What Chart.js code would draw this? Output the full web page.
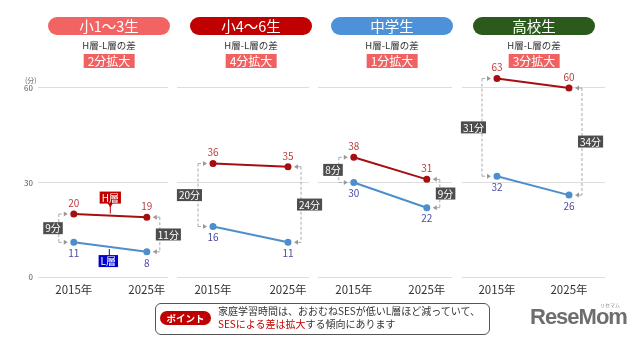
<!DOCTYPE html>
<html>
<head>
<meta charset="utf-8">
<script src="https://cdn.jsdelivr.net/npm/chart.js@4.4.0/dist/chart.umd.min.js"></script>
<style>
  body { margin: 0; background: #fff; font-family: 'Noto Sans CJK JP', 'Noto Sans', sans-serif; }
  #wrap { position: relative; width: 640px; height: 342px; overflow: hidden; }
  #wrap canvas { position: absolute; left: 0; top: 0; }
  .pill { position: absolute; top: 17px; width: 122px; height: 18px; border-radius: 9px; color: #fff;
          font-size: 14.5px; line-height: 18px; text-align: center; }
  .sub { position: absolute; top: 38px; width: 122px; text-align: center; font-size: 9.5px; color: #333; }
  .badge { position: absolute; top: 54px; height: 14px; line-height: 14px; padding: 0 4px; background: #f06262;
           color: #fff; font-size: 12px; transform: translateX(-50%); white-space: nowrap; }
  #unit { position: absolute; left: 25px; top: 75px; font-size: 7px; color: #666; }
  #note { position: absolute; left: 155px; top: 303px; width: 335px; height: 32px; border: 1.5px solid #555;
          border-radius: 6px; box-sizing: border-box; }
  #point { position: absolute; left: 4px; top: 7px; width: 51px; height: 14px; border-radius: 7px; background: #c00000;
           color: #fff; font-size: 9.5px; line-height: 14px; text-align: center; font-weight: bold; }
  #noteText { position: absolute; left: 62px; top: 0px; font-size: 10px; line-height: 13px; color: #333; white-space: nowrap; }
  #noteText b { color: #c00000; font-weight: normal; }
  #logo { position: absolute; left: 530px; top: 304px; font-family: 'Liberation Sans', sans-serif; font-weight: bold;
          font-size: 22px; color: #6e6e6e; letter-spacing: -1px; }
  #logoKana { position: absolute; left: 600px; top: 301px; font-size: 5px; color: #888; }
</style>
</head>
<body>
<div id="wrap"></div>
<script>
const years = ['2015年', '2025年'];
const groups = ['小1～3生', '小4～6生', '中学生', '高校生'];
const highLayer = [[20, 19], [36, 35], [38, 31], [63, 60]];
const lowLayer = [[11, 8], [16, 11], [30, 22], [32, 26]];
const yTicks = [0, 30, 60];

// panel placement and colours (pixels)
const panels = [
  { left: 38, right: 168, xMin: -0.49, xMax: 1.29, pill: 48, color: '#f26464' },
  { left: 177, right: 309, xMin: -0.48, xMax: 1.28, pill: 190, color: '#c00000' },
  { left: 318, right: 452, xMin: -0.49, xMax: 1.345, pill: 331, color: '#4d92d8' },
  { left: 462, right: 605, xMin: -0.486, xMax: 1.50, pill: 473, color: '#2c5a1c' }
];
// 0 sits at y=277, 60 at y=88; axis runs to 65 so the 63 point is inside the area
const Y_MAX = 65;
const PX_PER_MIN = (277 - 88) / 60;

const wrap = document.getElementById('wrap');
const FONT = "'Noto Sans CJK JP', 'Noto Sans', sans-serif";

function boxLabel(ctx, text, x, y, align, bg) {
  ctx.font = '10px ' + FONT;
  const w = ctx.measureText(text).width + 4;
  const h = 12;
  let left = x - w / 2;
  if (align === 'right') left = x - w;
  if (align === 'left') left = x;
  ctx.fillStyle = bg;
  ctx.fillRect(left, y - h / 2, w, h);
  ctx.fillStyle = '#fff';
  ctx.textAlign = 'center';
  ctx.textBaseline = 'middle';
  ctx.fillText(text, left + w / 2, y + 0.5);
}

const bracketPlugin = {
  id: 'brackets',
  afterDatasetsDraw(chart, args, opts) {
    const i = opts.index;
    const ctx = chart.ctx;
    const xs = chart.scales.x, ys = chart.scales.y;
    const h = highLayer[i], l = lowLayer[i];
    ctx.save();
    [0, 1].forEach(k => {
      const px = xs.getPixelForValue(k);
      const side = k === 0 ? -1 : 1;
      const lx = px + side * (k === 0 ? 15 : 13);
      const yh = ys.getPixelForValue(h[k]);
      const yl = ys.getPixelForValue(l[k]);
      ctx.strokeStyle = '#aaa';
      ctx.lineWidth = 1;
      ctx.setLineDash([3, 2]);
      ctx.beginPath();
      ctx.moveTo(lx, yh); ctx.lineTo(lx, yl);
      const tip = px + side * 6;
      ctx.moveTo(lx, yh); ctx.lineTo(tip + side * 3, yh);
      ctx.moveTo(lx, yl); ctx.lineTo(tip + side * 3, yl);
      ctx.stroke();
      ctx.setLineDash([]);
      ctx.fillStyle = '#999';
      [yh, yl].forEach(yy => {
        ctx.beginPath();
        ctx.moveTo(tip, yy);
        ctx.lineTo(tip + side * 4, yy - 2.5);
        ctx.lineTo(tip + side * 4, yy + 2.5);
        ctx.closePath();
        ctx.fill();
      });
      boxLabel(ctx, (h[k] - l[k]) + '分', k === 0 ? lx + 4 : lx - 4, (yh + yl) / 2, k === 0 ? 'right' : 'left', '#4d4d4d');

      ctx.font = '10px ' + FONT;
      ctx.textAlign = 'center';
      ctx.textBaseline = 'middle';
      ctx.fillStyle = '#b6403f';
      ctx.fillText(String(h[k]), px, yh - 11);
      ctx.fillStyle = '#4a4aa6';
      ctx.fillText(String(l[k]), px, yl + 11);
    });

    if (i === 0) {
      const mx = (xs.getPixelForValue(0) + xs.getPixelForValue(1)) / 2;
      const yH = ys.getPixelForValue((h[0] + h[1]) / 2);
      const yL = ys.getPixelForValue((l[0] + l[1]) / 2);
      ctx.strokeStyle = '#c00000';
      ctx.lineWidth = 1;
      ctx.beginPath(); ctx.moveTo(mx, yH - 13); ctx.lineTo(mx, yH - 2); ctx.stroke();
      ctx.fillStyle = '#c00000';
      ctx.beginPath(); ctx.moveTo(mx - 3, yH - 13); ctx.lineTo(mx + 3, yH - 13); ctx.lineTo(mx, yH - 8); ctx.fill();
      boxLabel(ctx, 'H層', mx, yH - 18, 'center', '#c00000');
      ctx.strokeStyle = '#0000c8';
      ctx.beginPath(); ctx.moveTo(mx - 1, yL + 2); ctx.lineTo(mx - 1, yL + 9); ctx.stroke();
      boxLabel(ctx, 'L層', mx - 2, yL + 14, 'center', '#0000d0');
    }
    ctx.restore();
  }
};

panels.forEach((p, i) => {
  const canvas = document.createElement('canvas');
  canvas.width = 640;
  canvas.height = 342;
  wrap.appendChild(canvas);
  const yw = i === 0 ? 14 : 0;
  const xh = 24;

  new Chart(canvas, {
    type: 'line',
    data: {
      datasets: [
        {
          data: highLayer[i].map((v, k) => ({ x: k, y: v })),
          borderColor: '#a50f12', backgroundColor: '#a50f12',
          borderWidth: 2, pointRadius: 2.5, clip: false
        },
        {
          data: lowLayer[i].map((v, k) => ({ x: k, y: v })),
          borderColor: '#4d8fcc', backgroundColor: '#4d8fcc',
          borderWidth: 2, pointRadius: 2.5, clip: false
        }
      ]
    },
    options: {
      responsive: false,
      animation: false,
      events: [],
      layout: {
        padding: {
          left: p.left - yw, right: 640 - p.right,
          top: 88 - (Y_MAX - 60) * PX_PER_MIN, bottom: 342 - 277 - xh
        }
      },
      plugins: {
        legend: { display: false },
        tooltip: { enabled: false },
        brackets: { index: i }
      },
      scales: {
        x: {
          type: 'linear', min: p.xMin, max: p.xMax,
          afterBuildTicks: s => { s.ticks = years.map((_, k) => ({ value: k })); },
          afterFit: s => { s.height = xh; },
          ticks: { callback: v => years[v], padding: 6, color: '#333', font: { size: 11.5, family: FONT }, autoSkip: false, maxRotation: 0 },
          grid: { display: false, drawTicks: false },
          border: { display: false }
        },
        y: {
          min: 0, max: Y_MAX,
          afterBuildTicks: s => { s.ticks = yTicks.map(v => ({ value: v })); },
          afterFit: s => { s.width = yw; },
          ticks: { display: i === 0, padding: 5, color: '#555', font: { size: 8, family: FONT } },
          grid: { color: '#dddddd', drawTicks: false },
          border: { display: false }
        }
      }
    },
    plugins: [bracketPlugin]
  });

  const pill = document.createElement('div');
  pill.className = 'pill';
  pill.style.left = p.pill + 'px';
  pill.style.background = p.color;
  pill.textContent = groups[i];
  wrap.appendChild(pill);

  const sub = document.createElement('div');
  sub.className = 'sub';
  sub.style.left = p.pill + 'px';
  sub.textContent = 'H層-L層の差';
  wrap.appendChild(sub);

  const badge = document.createElement('div');
  badge.className = 'badge';
  badge.style.left = (p.pill + 61) + 'px';
  const gap0 = highLayer[i][0] - lowLayer[i][0];
  const gap1 = highLayer[i][1] - lowLayer[i][1];
  badge.textContent = (gap1 - gap0) + '分拡大';
  wrap.appendChild(badge);
});

wrap.insertAdjacentHTML('beforeend',
  '<div id="unit">(分)</div>' +
  '<div id="note"><div id="point">ポイント</div>' +
  '<div id="noteText">家庭学習時間は、おおむねSESが低いL層ほど減っていて、<br><b>SESによる差は拡大</b>する傾向にあります</div></div>' +
  '<div id="logoKana">リセマム</div><div id="logo">ReseMom</div>');
</script>
</body>
</html>
